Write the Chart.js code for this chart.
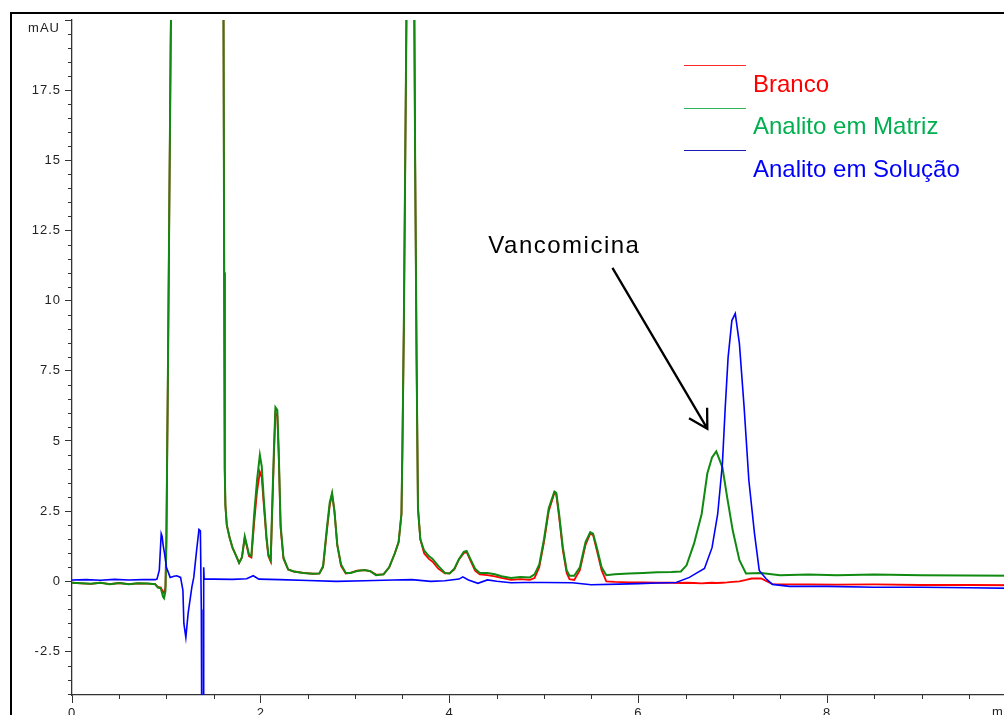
<!DOCTYPE html>
<html>
<head>
<meta charset="utf-8">
<title>Cromatograma - Vancomicina</title>
<script src="https://cdn.jsdelivr.net/npm/chart.js@4.4.1/dist/chart.umd.min.js"></script>
<style>
  html, body { margin: 0; padding: 0; background: #fff; }
  #wrap { position: relative; width: 1004px; height: 715px; overflow: hidden; }
  #chart { position: absolute; left: 0; top: 0; }
</style>
</head>
<body>
<div id="wrap"><canvas id="chart" width="1040" height="740"></canvas></div>
<script>
// Tick labels
const xTicks = [0, 2, 4, 6, 8, 10];
const yTicks = [-2.5, 0, 2.5, 5, 7.5, 10, 12.5, 15, 17.5, 20];
const xUnit = 'min';
const yUnit = 'mAU';

// Series names
const seriesNames = ['Branco', 'Analito em Matriz', 'Analito em Solução'];

// Branco (red) - time (min) / signal (mAU)
const brancoT = [
  0, 0.1, 0.2, 0.3, 0.4, 0.5, 0.6, 0.7, 0.8, 0.88,
  0.91, 0.94, 0.965, 0.975, 0.99, 1.0, 1.015, 1.03, 1.045, 1.06,
  1.3, 1.59, 1.605, 1.612, 1.618, 1.625, 1.64, 1.67, 1.70, 1.74,
  1.77, 1.80, 1.83, 1.855, 1.875, 1.90, 1.93, 1.96, 1.99, 2.01,
  2.03, 2.06, 2.08, 2.105, 2.12, 2.14, 2.155, 2.175, 2.19, 2.21,
  2.24, 2.29, 2.35, 2.45, 2.55, 2.62, 2.66, 2.70, 2.73, 2.755,
  2.78, 2.81, 2.85, 2.90, 2.95, 3.02, 3.10, 3.16, 3.22, 3.30,
  3.36, 3.42, 3.46, 3.49, 3.50, 3.515, 3.53, 3.545, 3.58, 3.625,
  3.635, 3.65, 3.665, 3.69, 3.73, 3.78, 3.82, 3.88, 3.95, 4.0,
  4.05, 4.10, 4.15, 4.18, 4.22, 4.27, 4.32, 4.40, 4.48, 4.55,
  4.65, 4.75, 4.85, 4.90, 4.95, 5.0, 5.05, 5.11, 5.13, 5.16,
  5.20, 5.24, 5.27, 5.32, 5.38, 5.44, 5.49, 5.52, 5.56, 5.61,
  5.66, 5.75, 5.9, 6.05, 6.2, 6.35, 6.45, 6.51, 6.59, 6.67,
  6.73, 6.78, 6.825, 6.89, 6.94, 7.0, 7.07, 7.14, 7.2, 7.3,
  7.42, 7.8, 8.1, 8.5, 9.0, 9.5, 10.0
];
const brancoY = [
  -0.05, -0.07, -0.09, -0.05, -0.1, -0.06, -0.1, -0.07, -0.08, -0.1,
  -0.2, -0.22, -0.38, -0.42, -0.2, 1.5, 7, 13, 19, 24,
  32, 30, 20, 11, 4, 2.7, 2.0, 1.55, 1.2, 0.9,
  0.66, 0.85, 1.55, 1.2, 0.9, 0.85, 2.1, 3.2, 3.9, 3.7,
  2.8, 1.5, 0.9, 0.7, 2.4, 4.6, 6.0, 5.9, 4.5, 1.9,
  0.8, 0.42, 0.35, 0.3, 0.27, 0.28, 0.5, 1.8, 2.7, 3.1,
  2.5, 1.3, 0.55, 0.28, 0.3, 0.38, 0.4, 0.36, 0.24, 0.25,
  0.5, 1.0, 1.4, 2.4, 4.7, 9, 15, 21, 28, 21,
  15, 8, 2.6, 1.5, 1.0, 0.8, 0.7, 0.45, 0.28, 0.28,
  0.42, 0.78, 1.0, 1.05, 0.75, 0.38, 0.25, 0.22, 0.18, 0.12,
  0.05, 0.08, 0.05, 0.12, 0.5, 1.4, 2.5, 3.15, 3.1, 2.3,
  1.1, 0.3, 0.08, 0.05, 0.4, 1.3, 1.7, 1.65, 1.1, 0.4,
  0.0, -0.02, -0.04, -0.04, -0.05, -0.05, -0.06, -0.05, -0.06, -0.07,
  -0.06, -0.05, -0.06, -0.05, -0.04, -0.02, 0.0, 0.05, 0.1, 0.1,
  -0.1, -0.11, -0.12, -0.11, -0.13, -0.13, -0.14
];

// Analito em Matriz (green)
const matrizT = [
  0, 0.1, 0.2, 0.3, 0.4, 0.5, 0.6, 0.7, 0.8, 0.88,
  0.91, 0.94, 0.965, 0.975, 0.99, 1.0, 1.015, 1.03, 1.045, 1.06,
  1.3, 1.59, 1.605, 1.612, 1.618, 1.625, 1.64, 1.67, 1.70, 1.74,
  1.77, 1.80, 1.83, 1.855, 1.875, 1.90, 1.93, 1.96, 1.99, 2.01,
  2.03, 2.06, 2.08, 2.105, 2.12, 2.14, 2.155, 2.175, 2.19, 2.21,
  2.24, 2.29, 2.35, 2.45, 2.55, 2.62, 2.66, 2.70, 2.73, 2.755,
  2.78, 2.81, 2.85, 2.90, 2.95, 3.02, 3.10, 3.16, 3.22, 3.30,
  3.36, 3.42, 3.46, 3.49, 3.50, 3.515, 3.53, 3.545, 3.58, 3.625,
  3.635, 3.65, 3.665, 3.69, 3.73, 3.78, 3.82, 3.88, 3.95, 4.0,
  4.05, 4.10, 4.15, 4.18, 4.22, 4.27, 4.32, 4.40, 4.48, 4.55,
  4.65, 4.75, 4.85, 4.90, 4.95, 5.0, 5.05, 5.11, 5.13, 5.16,
  5.20, 5.24, 5.27, 5.32, 5.38, 5.44, 5.49, 5.52, 5.56, 5.61,
  5.66, 5.75, 5.9, 6.05, 6.2, 6.35, 6.45, 6.51, 6.59, 6.67,
  6.73, 6.78, 6.825, 6.89, 6.94, 7.0, 7.07, 7.14, 7.3, 7.5,
  7.8, 8.1, 8.5, 9.0, 9.5, 10.0
];
const matrizY = [
  -0.05, -0.07, -0.09, -0.05, -0.1, -0.06, -0.1, -0.07, -0.08, -0.1,
  -0.22, -0.25, -0.55, -0.6, -0.35, 1.5, 7, 13, 19, 24,
  32, 30, 20, 11, 4, 2.7, 2.0, 1.55, 1.2, 0.9,
  0.66, 0.85, 1.6, 1.25, 0.95, 0.9, 2.4, 3.6, 4.5, 4.1,
  3.0, 1.6, 0.95, 0.75, 2.6, 4.8, 6.2, 6.1, 4.6, 2.0,
  0.85, 0.42, 0.35, 0.3, 0.27, 0.28, 0.55, 1.9, 2.8, 3.15,
  2.5, 1.3, 0.6, 0.3, 0.3, 0.37, 0.4, 0.36, 0.22, 0.25,
  0.5, 1.0, 1.4, 2.4, 4.7, 9, 15, 21, 28, 21,
  15, 8, 2.6, 1.5, 1.1, 0.9, 0.8, 0.55, 0.3, 0.28,
  0.45, 0.8, 1.05, 1.08, 0.8, 0.45, 0.3, 0.3, 0.25, 0.18,
  0.12, 0.15, 0.14, 0.25, 0.6, 1.5, 2.6, 3.2, 3.15, 2.4,
  1.2, 0.4, 0.2, 0.2, 0.5, 1.4, 1.75, 1.7, 1.2, 0.5,
  0.22, 0.25, 0.28, 0.3, 0.32, 0.33, 0.35, 0.57, 1.35, 2.4,
  3.84, 4.41, 4.63, 4.06, 3.0, 1.8, 0.75, 0.28, 0.3, 0.22,
  0.24, 0.22, 0.24, 0.22, 0.21, 0.2
];

// Analito em Solução (blue)
const solucaoT = [
  0, 0.15, 0.3, 0.45, 0.6, 0.75, 0.88, 0.90, 0.925, 0.945,
  0.955, 0.965, 0.98, 1.0, 1.04, 1.08, 1.11, 1.15, 1.175, 1.185,
  1.206, 1.23, 1.27, 1.29, 1.32, 1.345, 1.36, 1.37, 1.375, 1.39,
  1.395, 1.40, 1.5, 1.7, 1.85, 1.92, 1.98, 2.2, 2.5, 2.8,
  3.1, 3.4, 3.6, 3.8, 3.95, 4.1, 4.14, 4.2, 4.3, 4.4,
  4.5, 4.65, 4.8, 5.0, 5.3, 5.5, 5.8, 6.0, 6.2, 6.4,
  6.54, 6.62, 6.70, 6.78, 6.84, 6.89, 6.92, 6.95, 6.99, 7.026,
  7.07, 7.12, 7.17, 7.23, 7.28, 7.35, 7.42, 7.6, 8.0, 8.5,
  9.0, 9.5, 10.0
];
const solucaoY = [
  0.05, 0.06, 0.04, 0.07, 0.05, 0.06, 0.06, 0.08, 0.4, 1.7,
  1.6, 1.3, 1.0, 0.5, 0.14, 0.18, 0.2, 0.14, -0.32, -1.5,
  -2.0, -1.14, -0.2, 0.14, 1.1, 1.85, 1.8, -1, -6, -6,
  0.5, 0.08, 0.08, 0.07, 0.09, 0.2, 0.08, 0.06, 0.03, 0.0,
  0.02, 0.05, 0.06, 0.0, 0.02, 0.08, 0.16, 0.05, -0.07, 0.05,
  0.0, -0.05, -0.04, -0.04, -0.05, -0.12, -0.1, -0.08, -0.06, -0.04,
  0.14, 0.3, 0.46, 1.2, 2.4, 4.2, 6.2, 7.97, 9.29, 9.54,
  8.47, 6.2, 3.6, 1.7, 0.39, 0.1, -0.11, -0.18, -0.18, -0.21,
  -0.21, -0.23, -0.25
];

// Annotation
const peakLabel = 'Vancomicina';
const peakLabelAt = { x: 4.41, y: 11.7 };
const arrowFrom = { x: 5.725, y: 11.17 };
const arrowTo = { x: 6.73, y: 5.44 };

const lineColors = ['#ff0000', '#108a10', '#0000ff'];
const lineWidths = [1.8, 2, 1.6];
const legendLineColors = ['#ff2a2a', '#2fb45a', '#1c1cb4'];
const legendTextColors = ['#ff0000', '#00b050', '#0000ff'];

const tickFont = '13px "Liberation Sans", Arial, sans-serif';
const bigFont = '24px "Liberation Sans", Arial, sans-serif';

function toPoints(ts, ys) {
  return ts.map((t, i) => ({ x: t, y: ys[i] }));
}

// Frame, minor ticks, unit labels, legend and arrow
const extras = {
  id: 'extras',
  beforeDraw(chart) {
    const ctx = chart.ctx;
    ctx.save();
    ctx.fillStyle = '#000';
    ctx.fillRect(10, 12, 2, chart.height);
    ctx.fillRect(10, 12, chart.width, 2);
    ctx.restore();
    // tick labels in the original are widely spaced
    ctx.letterSpacing = '1px';
  },
  afterDraw(chart) {
    const { ctx, chartArea: a, scales: { x, y } } = chart;
    ctx.save();

    // minor ticks every 0.5
    ctx.strokeStyle = '#333';
    ctx.lineWidth = 1;
    ctx.beginPath();
    for (let v = -4; v <= 20; v += 0.5) {
      if (yTicks.includes(v)) continue;
      const py = Math.round(y.getPixelForValue(v)) + 0.5;
      ctx.moveTo(a.left - 4, py);
      ctx.lineTo(a.left, py);
    }
    for (let v = 0.5; v <= 10; v += 0.5) {
      if (xTicks.includes(v)) continue;
      const px = Math.round(x.getPixelForValue(v)) + 0.5;
      ctx.moveTo(px, a.bottom);
      ctx.lineTo(px, a.bottom + 4);
    }
    ctx.stroke();

    // unit labels
    ctx.fillStyle = '#222';
    ctx.font = tickFont;
    ctx.textAlign = 'right';
    ctx.textBaseline = 'middle';
    ctx.fillText(yUnit, a.left - 12, a.top + 8);
    ctx.textBaseline = 'top';
    ctx.fillText(xUnit, x.getPixelForValue(10), a.bottom + 11);

    // legend
    ctx.letterSpacing = '0px';
    ctx.font = bigFont;
    ctx.textAlign = 'left';
    ctx.textBaseline = 'alphabetic';
    chart.data.datasets.forEach((ds, i) => {
      const ly = 65 + i * 42.5;
      ctx.strokeStyle = legendLineColors[i];
      ctx.beginPath();
      ctx.moveTo(684, Math.round(ly) + 0.5);
      ctx.lineTo(746, Math.round(ly) + 0.5);
      ctx.stroke();
      ctx.fillStyle = legendTextColors[i];
      ctx.fillText(ds.label, 753, 92 + i * 42.4);
    });

    // peak annotation
    ctx.fillStyle = '#000';
    ctx.letterSpacing = '1.5px';
    ctx.fillText(peakLabel, x.getPixelForValue(peakLabelAt.x), y.getPixelForValue(peakLabelAt.y));
    ctx.letterSpacing = '0px';
    const x0 = x.getPixelForValue(arrowFrom.x), y0 = y.getPixelForValue(arrowFrom.y);
    const x1 = x.getPixelForValue(arrowTo.x), y1 = y.getPixelForValue(arrowTo.y);
    const ang = Math.atan2(y1 - y0, x1 - x0);
    ctx.strokeStyle = '#000';
    ctx.lineWidth = 2.3;
    ctx.beginPath();
    ctx.moveTo(x0, y0);
    ctx.lineTo(x1, y1);
    ctx.moveTo(x1 - 21 * Math.cos(ang - Math.PI / 6), y1 - 21 * Math.sin(ang - Math.PI / 6));
    ctx.lineTo(x1, y1);
    ctx.lineTo(x1 - 21 * Math.cos(ang + Math.PI / 6), y1 - 21 * Math.sin(ang + Math.PI / 6));
    ctx.stroke();

    ctx.restore();
  }
};

new Chart(document.getElementById('chart'), {
  type: 'line',
  data: {
    datasets: [
      { label: seriesNames[0], data: toPoints(brancoT, brancoY), borderColor: lineColors[0], borderWidth: lineWidths[0], order: 2 },
      { label: seriesNames[1], data: toPoints(matrizT, matrizY), borderColor: lineColors[1], borderWidth: lineWidths[1], order: 1 },
      { label: seriesNames[2], data: toPoints(solucaoT, solucaoY), borderColor: lineColors[2], borderWidth: lineWidths[2], order: 0 }
    ]
  },
  options: {
    responsive: false,
    animation: false,
    parsing: false,
    layout: { padding: { left: 0, top: 20, right: 24, bottom: 0 } },
    elements: {
      line: { tension: 0, fill: false },
      point: { radius: 0 }
    },
    plugins: { legend: { display: false }, tooltip: { enabled: false } },
    scales: {
      x: {
        type: 'linear',
        min: 0,
        max: 10,
        afterBuildTicks: axis => { axis.ticks = xTicks.map(v => ({ value: v })); },
        afterFit: axis => { axis.height = 45; },
        ticks: {
          color: '#222',
          font: { family: '"Liberation Sans", Arial, sans-serif', size: 13 },
          maxRotation: 0,
          padding: 3,
          callback: v => (v === 10 ? '' : String(v))
        },
        grid: { drawOnChartArea: false, tickLength: 8, color: '#333' },
        border: { color: '#333', width: 1.3 }
      },
      y: {
        type: 'linear',
        min: -4.05,
        max: 20,
        afterBuildTicks: axis => { axis.ticks = yTicks.map(v => ({ value: v })); },
        afterFit: axis => { axis.width = 72; },
        ticks: {
          color: '#222',
          font: { family: '"Liberation Sans", Arial, sans-serif', size: 13 },
          padding: 4,
          callback: v => (v === 20 ? '' : String(v))
        },
        grid: { drawOnChartArea: false, tickLength: 7, color: '#333' },
        border: { color: '#333', width: 1.3 }
      }
    }
  },
  plugins: [extras]
});
</script>
</body>
</html>
